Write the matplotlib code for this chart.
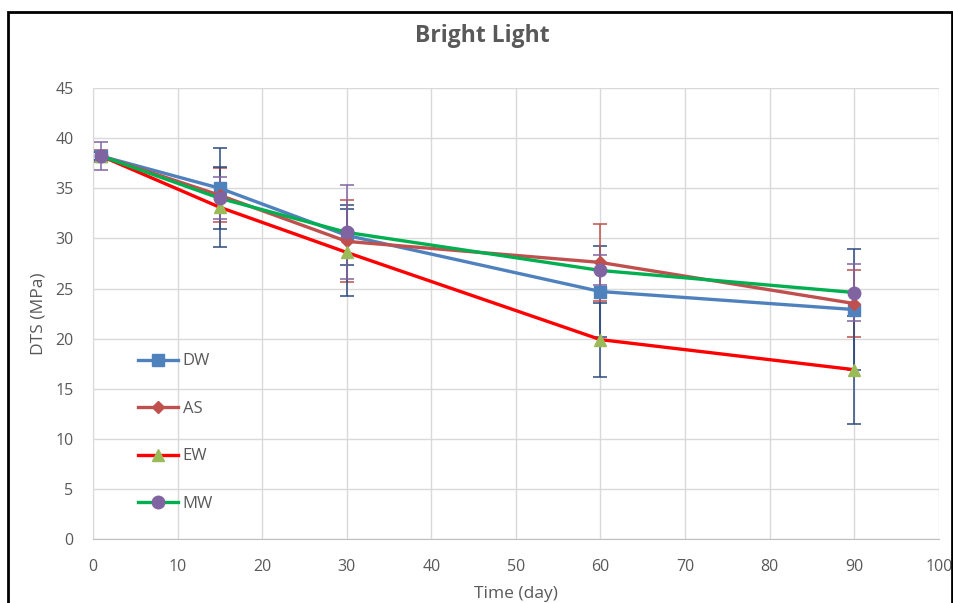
import matplotlib.pyplot as plt
from matplotlib.patches import Rectangle

days = [1, 15, 30, 60, 90]

dw = [38.2, 35.0, 30.3, 24.7, 22.9]
dw_err = [0.4, 4.05, 3.0, 4.5, 6.0]
as_ = [38.2, 34.3, 29.7, 27.6, 23.5]
as_err = [0.6, 2.7, 4.1, 3.8, 3.3]
ew = [38.2, 33.1, 28.6, 19.9, 16.9]
ew_err = [0.4, 4.0, 4.3, 3.7, 5.4]
mw = [38.2, 34.0, 30.6, 26.8, 24.6]
mw_err = [1.4, 2.1, 4.7, 1.5, 2.8]

plt.rcParams['font.family'] = ['Open Sans', 'DejaVu Sans']

fig = plt.figure(figsize=(9.54, 6.03), dpi=100)
ax = fig.add_axes([0.0975, 0.106, 0.8865, 0.748])

navy = '#2E4A7D'
series = [
    ('DW', dw, dw_err, '#4F81BD', 's', '#4F81BD', navy, 8),
    ('AS', as_, as_err, '#C0504D', 'D', '#C0504D', '#C0504D', 6.5),
    ('EW', ew, ew_err, '#FF0000', '^', '#9BBB59', navy, 9),
    ('MW', mw, mw_err, '#00B050', 'o', '#8064A2', '#8064A2', 9),
]

for name, y, err, lc, mk, mc, ec, ms in series:
    ax.errorbar(days, y, yerr=err, fmt='none', ecolor=ec, elinewidth=1.1,
                capsize=5, capthick=1.1, zorder=2)
for name, y, err, lc, mk, mc, ec, ms in series:
    ax.plot(days, y, color=lc, lw=2.4, marker=mk, markersize=ms,
            markerfacecolor=mc, markeredgecolor=mc, label=name, zorder=3)

ax.set_xlim(0, 100)
ax.set_ylim(0, 45)
ax.set_xticks(range(0, 101, 10))
ax.set_yticks(range(0, 46, 5))
ax.grid(True, color='#D9D9D9', lw=1)
ax.set_axisbelow(True)
for s in ['top', 'right']:
    ax.spines[s].set_visible(False)
ax.spines['left'].set_color('#D9D9D9')
ax.spines['bottom'].set_color('#BFBFBF')
ax.tick_params(axis='x', length=0, labelsize=11.5, labelcolor='#595959', pad=14)
ax.tick_params(axis='y', length=0, labelsize=11.5, labelcolor='#595959', pad=14)

ax.set_xlabel('Time (day)', fontsize=12.5, color='#595959', labelpad=8)
ax.set_ylabel('DTS (MPa)', fontsize=12.5, color='#595959', labelpad=6)
fig.text(0.506, 0.94, 'Bright Light', ha='center', va='center',
         fontsize=16.5, fontweight='bold', color='#595959')

ax.legend(loc='upper left', bbox_to_anchor=(0.035, 0.445), frameon=False,
          fontsize=12, labelspacing=1.89, handlelength=2.4, handletextpad=0.3,
          labelcolor='#595959')

fig.patches.append(Rectangle((0.0085, -0.05), 0.989, 1.03, transform=fig.transFigure,
                             fill=False, edgecolor='black', lw=2, clip_on=False))

fig.savefig('out.png', dpi=100)
